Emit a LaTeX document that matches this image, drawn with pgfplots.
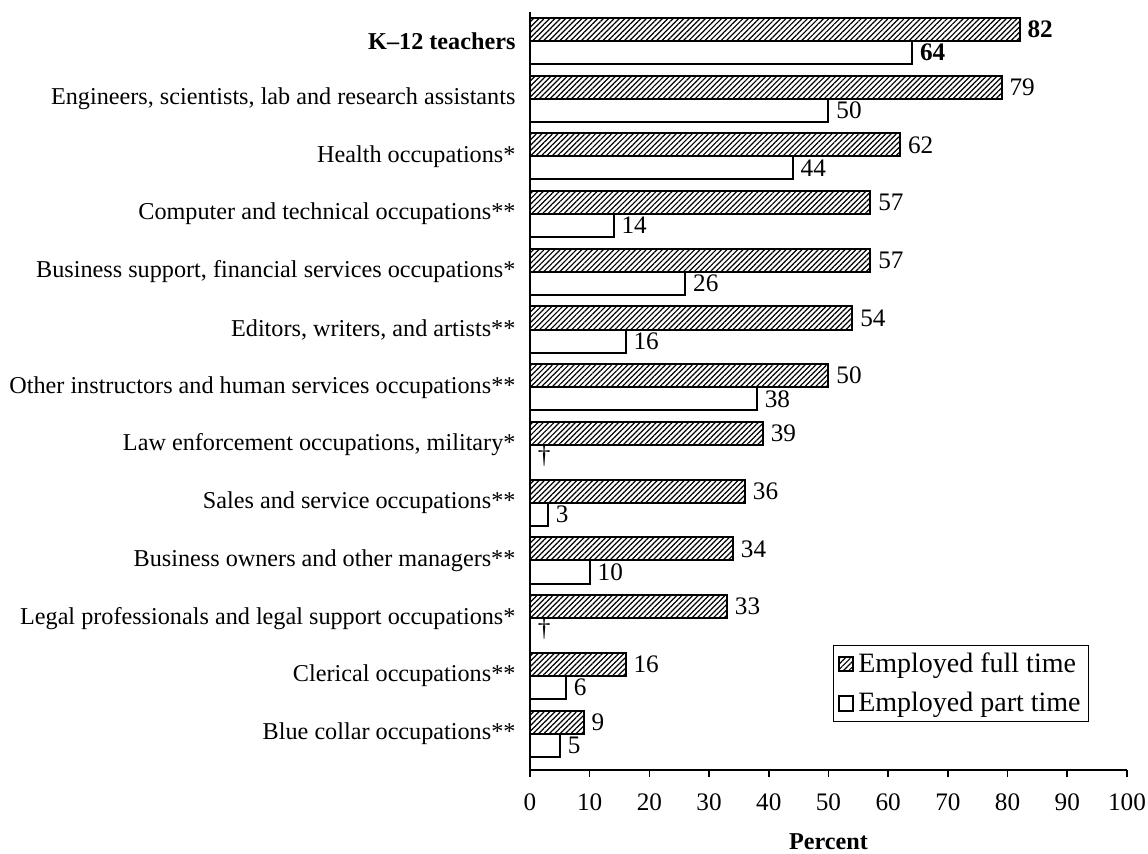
\documentclass[border=0pt]{standalone}
\usepackage{fontspec}
\setmainfont{Liberation Serif}
\usepackage{pgfplots}
\pgfplotsset{compat=1.18}
\usetikzlibrary{patterns.meta}

\newcommand{\lblfont}{\fontsize{12.1}{14}\selectfont}

\begin{document}
\begin{tikzpicture}
\begin{axis}[
    width=298.5pt, height=379pt, scale only axis,
    xbar, bar width=0.40,
    xmin=0, xmax=100, ymin=-0.5, ymax=12.63,
    y dir=reverse,
    axis x line=bottom, axis y line=left,
    axis line style={-, line width=1pt},
    xtick={0,10,...,100}, xtick align=outside,
    x tick style={line width=0.8pt, black}, major tick length=3.5pt,
    ytick={0,...,12}, y tick style={draw=none},
    yticklabels={
        \textbf{K--12 teachers},
        {Engineers, scientists, lab and research assistants},
        Health occupations*,
        Computer and technical occupations**,
        {Business support, financial services occupations*},
        {Editors, writers, and artists**},
        Other instructors and human services occupations**,
        {Law enforcement occupations, military*},
        Sales and service occupations**,
        Business owners and other managers**,
        Legal professionals and legal support occupations*,
        Clerical occupations**,
        Blue collar occupations**},
    tick label style={font=\lblfont},
    yticklabel style={xshift=-2pt},
    xticklabel style={yshift=-5pt, font=\fontsize{12.6}{14}\selectfont},
    /pgf/number format/assume math mode=true,
    xlabel={\textbf{Percent}},
    x label style={at={(axis description cs:0.5,-0.094)}, anchor=center, font=\lblfont},
    nodes near coords, point meta=explicit symbolic,
    nodes near coords style={font=\fontsize{12.6}{14}\selectfont, anchor=west, inner sep=3pt, xshift=0.5pt},
    legend cell align=left,
    legend style={at={(axis description cs:0.508,0.165)}, anchor=north west,
        draw=black, line width=0.6pt, font=\fontsize{14}{16}\selectfont,
        row sep=4.5pt, inner xsep=2pt, inner ysep=1.5pt,
        /tikz/every even column/.append style={column sep=0pt}},
    legend image code/.code={\draw[#1] (0pt,-3.6pt) rectangle (7.2pt,3.6pt);},
    clip=false,
]
\addplot[draw=black, line width=1pt, bar shift=-0.20,
    pattern={Lines[angle=45, distance=1.9pt, line width=0.6pt]}]
    coordinates {
    (82,0) [\textbf{82}] (79,1) [79] (62,2) [62] (57,3) [57] (57,4) [57]
    (54,5) [54] (50,6) [50] (39,7) [39] (36,8) [36] (34,9) [34]
    (33,10) [33] (16,11) [16] (9,12) [9]
    };
\addplot[draw=black, line width=1pt, fill=white, bar shift=0.20]
    coordinates {
    (64,0) [\textbf{64}] (50,1) [50] (44,2) [44] (14,3) [14] (26,4) [26]
    (16,5) [16] (38,6) [38] (0,7) [†] (3,8) [3] (10,9) [10]
    (0,10) [†] (6,11) [6] (5,12) [5]
    };
\legend{Employed full time, Employed part time}
\end{axis}
\pgfresetboundingbox
\path (-265pt,-41.5pt) rectangle (309pt,385pt);
\end{tikzpicture}
\end{document}
